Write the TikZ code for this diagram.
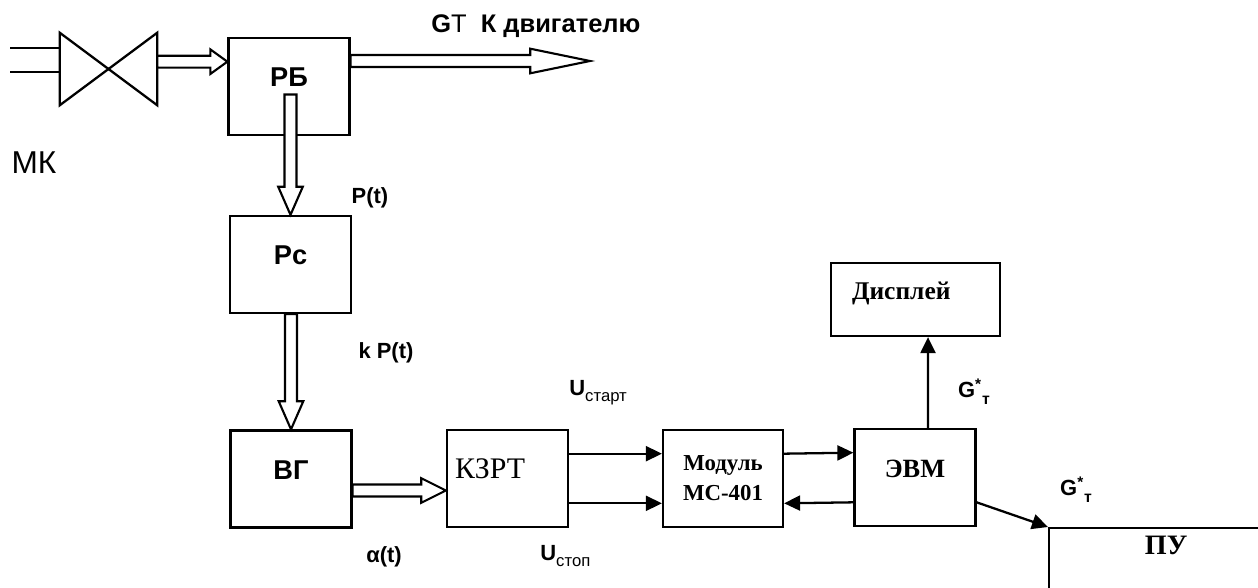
\documentclass[tikz,border=0pt]{standalone}
\usepackage{fontspec}
\setmainfont{Liberation Sans}
\newfontfamily\serifcyr{Liberation Serif}
\usepackage{tikz}
\usetikzlibrary{calc}
\usetikzlibrary{arrows.meta}

\tikzset{
    blk/.style={draw=black, line width=1.3pt, rectangle, minimum width=2.42cm, minimum height=1.94cm,
        text height=0.3cm, text depth=0.3cm},
    sansblk/.style={blk, font=\fontsize{15.5}{17}\selectfont\bfseries},
    serifblk/.style={blk, font=\fontsize{15}{17}\selectfont\serifcyr\bfseries},
    pipe/.style={draw=black, line width=1.2pt, fill=white},
    sig/.style={line width=1.3pt, -{Triangle[length=0.32cm, width=0.3cm]}},
    lbl/.style={font=\fontsize{12.5}{14}\selectfont\bfseries, inner sep=0pt}
}

% hollow flow arrows, tip at the second point
\newcommand{\hflow}[3][16pt]{%
    \draw[pipe] let \p1=(#2), \p2=(#3) in
        (\x1,{\y2+3.4pt}) -- ({\x2-#1},{\y2+3.4pt}) -- ({\x2-#1},{\y2+7pt}) -- (\x2,\y2)
        -- ({\x2-#1},{\y2-7pt}) -- ({\x2-#1},{\y2-3.4pt}) -- (\x1,{\y2-3.4pt}) -- cycle;}
\newcommand{\vflow}[3][16pt]{%
    \draw[pipe] let \p1=(#2), \p2=(#3) in
        ({\x2-3.4pt},\y1) -- ({\x2-3.4pt},{\y2+#1}) -- ({\x2-7pt},{\y2+#1}) -- (\x2,\y2)
        -- ({\x2+7pt},{\y2+#1}) -- ({\x2+3.4pt},{\y2+#1}) -- ({\x2+3.4pt},\y1) -- cycle;}

\begin{document}
\begin{tikzpicture}[x=0.02cm, y=-0.02cm]
    \clip (0,0) rectangle (1258,588);

    % valve and inlet
    \node[minimum width=1.94cm, minimum height=1.44cm, inner sep=0pt] (valve) at (108.5,69) {};
    \draw[line width=1.3pt] (valve.north west) -- (valve.south west) -- (valve.north east)
        -- (valve.south east) -- cycle;
    \coordinate (in1) at (10,48);
    \coordinate (in2) at (10,72);
    \draw[line width=1.3pt] (in1) -- (in1 -| valve.west);
    \draw[line width=1.3pt] (in2) -- (in2 -| valve.west);
    \node[font=\fontsize{18}{20}\selectfont, inner sep=0pt] (mk) at (34,163) {МК};

    % blocks
    \node[sansblk] (rb) at (289,86.5) {РБ};
    \node[sansblk] (pc) at (290.5,264.5) {Pc};
    \node[sansblk] (vg) at (291,479) {ВГ};
    \node[blk, font=\fontsize{17}{19}\selectfont\serifcyr, text width=2.1cm, align=left] (kzrt) at (507.5,478.5) {КЗРТ};
    \node[draw=black, line width=1.3pt, minimum width=2.4cm, minimum height=1.94cm, align=center,
        font=\fontsize{13}{17}\selectfont\serifcyr\bfseries] (modul) at (723,478.5) {Модуль\\МС-401};
    \node[serifblk] (evm) at (915,477.5) {ЭВМ};
    \node[serifblk, minimum width=3.38cm, minimum height=1.46cm, text width=2.54cm, align=left,
        font=\fontsize{14.5}{16}\selectfont\serifcyr\bfseries] (disp) at (915.5,299.5) {Дисплей};
    \node[draw=black, line width=1.3pt, minimum width=4.68cm, minimum height=3cm, anchor=north west,
        label={[anchor=north, yshift=-0.05cm, font=\fontsize{16}{18}\selectfont\serifcyr\bfseries]north:ПУ}]
        (pu) at (1048,527) {};

    % flows
    \coordinate (out) at (590,61);
    \hflow[9.7pt]{valve.east}{$(rb.north west)!0.25!(rb.south west)$}
    \hflow[34pt]{rb.east}{out}
    \vflow{$(rb.center)+(0,8)$}{pc.north}
    \vflow{pc.south}{vg.north}
    \hflow[14pt]{vg.east}{$(kzrt.west)+(0,12)$}

    % signals
    \draw[sig] ($(kzrt.north east)!0.25!(kzrt.south east)$) -- ($(modul.north west)!0.25!(modul.south west)$);
    \draw[sig] ($(kzrt.north east)!0.75!(kzrt.south east)$) -- ($(modul.north west)!0.75!(modul.south west)$);
    \draw[sig] ($(modul.north east)!0.25!(modul.south east)$) -- ($(evm.north west)!0.25!(evm.south west)$);
    \draw[sig] ($(evm.north west)!0.75!(evm.south west)$) -- ($(modul.north east)!0.75!(modul.south east)$);
    \draw[sig] ($(evm.north)+(13,0)$) -- ($(disp.south)+(12.5,0)$);
    \draw[sig] ($(evm.north east)!0.75!(evm.south east)$) -- (pu.north west);

    % labels
    \node[lbl, anchor=west, font=\fontsize{14.5}{16}\selectfont] (gt) at (431,26) {\textbf{G}T\ \ \textbf{К двигателю}};
    \node[lbl] (pt) at (370,198) {P(t)};
    \node[lbl] (kpt) at (386,353) {k P(t)};
    \node[lbl] (alpha) at (384,557) {α(t)};
    \node[lbl, anchor=west] (ustart) at (569,393) {U\raisebox{-0.5ex}{\fontsize{9.5}{10}\selectfont\mdseries старт}};
    \node[lbl, anchor=west] (ustop) at (540,556) {U\raisebox{-0.5ex}{\fontsize{9.5}{10}\selectfont\mdseries стоп}};
    \node[lbl] (g1) at (974,392) {G\textsuperscript{*}\raisebox{-0.6ex}{\fontsize{9}{10}\selectfont т}};
    \node[lbl] (g2) at (1076,490) {G\textsuperscript{*}\raisebox{-0.6ex}{\fontsize{9}{10}\selectfont т}};
\end{tikzpicture}
\end{document}
